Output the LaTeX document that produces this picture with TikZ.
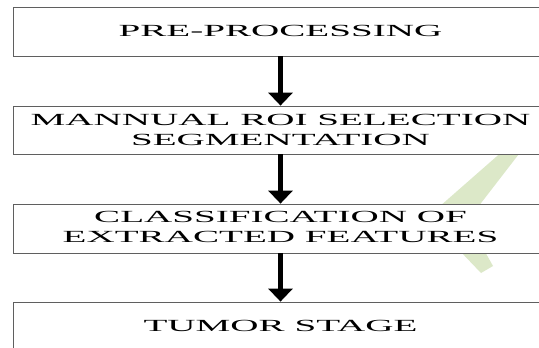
\documentclass[tikz,border=0pt]{standalone}
\usepackage{fontspec}
\setmainfont{Liberation Serif}
\usetikzlibrary{arrows.meta}
\newcommand{\widetxt}[1]{\scalebox{2.3}[1]{#1}}
\definecolor{wmgreen}{RGB}{220,232,200}
\definecolor{boxline}{RGB}{95,95,95}
\tikzset{
  stagebox/.style={draw=boxline, line width=0.8pt, fill=white, minimum width=600pt,
    minimum height=49pt, inner sep=0pt},
  stagetext/.style={inner sep=0pt, align=center, font=\fontsize{17}{19.3}\selectfont},
  flowarrow/.style={line width=4.5pt, -{Triangle[width=24pt,length=13pt]}}
}
\begin{document}
\begin{tikzpicture}[x=1pt, y={(0pt,-1pt)}]
\useasboundingbox (0,0) rectangle (539,348);
\clip (0,0) rectangle (539,348);
\fill[white] (0,0) rectangle (539,348);
% faint watermark stroke
\fill[wmgreen] (504,150) -- (522,150) -- (478,207) -- (439,207) -- cycle;
\fill[wmgreen] (459,250) -- (484,250) -- (493,266) -- (481,273) -- cycle;
% boxes
\node[stagebox] (pre) at (313,31.5) {};
\node[stagebox, minimum height=48pt] (roi) at (313,130) {};
\node[stagebox] (cls) at (313,228.5) {};
\node[stagebox] (tum) at (313,326.5) {};
% texts
\node[stagetext] (preT) at (280.5,31) {\widetxt{PRE-PROCESSING}};
\node[stagetext] (roiT) at (280.5,130) {\widetxt{MANNUAL ROI SELECTION}\\\widetxt{SEGMENTATION}};
\node[stagetext] (clsT) at (280.5,227) {\widetxt{CLASSIFICATION OF}\\\widetxt{EXTRACTED FEATURES}};
\node[stagetext] (tumT) at (280.5,326) {\widetxt{TUMOR STAGE}};
% arrows
\draw[flowarrow] (preT |- pre.south) -- (preT |- roi.north);
\draw[flowarrow] (roiT |- roi.south) -- (roiT |- cls.north);
\draw[flowarrow] (clsT |- cls.south) -- (clsT |- tum.north);
\end{tikzpicture}
\end{document}
